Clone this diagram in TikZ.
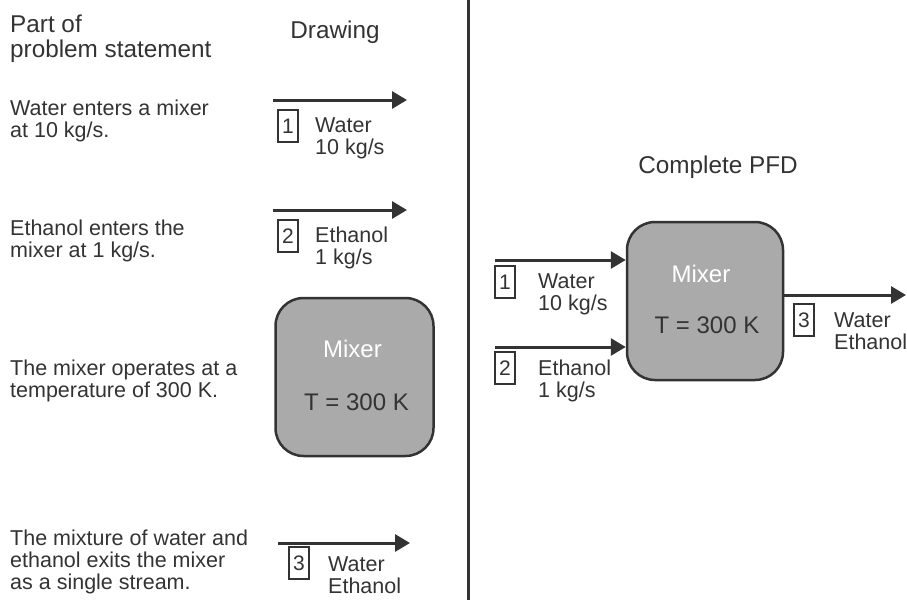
\documentclass[tikz,border=0pt]{standalone}
\usepackage{fontspec}
\setmainfont{Liberation Sans}
\usetikzlibrary{arrows.meta}
\definecolor{ink}{HTML}{333333}
\definecolor{boxgray}{HTML}{AAAAAA}

\begin{document}
\begin{tikzpicture}[x=1pt,y=-1pt,>={Triangle[length=15pt,width=17pt]},
  txt/.style={anchor=base west,align=left,inner sep=0,text=ink,font=\fontsize{21.5}{22}\selectfont},
  head/.style={txt,font=\fontsize{24.3}{25}\selectfont},
  num/.style={draw=ink,line width=2pt,text=ink,inner sep=0,minimum width=20pt,minimum height=32pt,font=\fontsize{21}{22}\selectfont},
  unit/.style={draw=ink,line width=2.5pt,fill=boxgray,rounded corners=28pt,minimum width=158pt,minimum height=158pt},
  stream/.style={->,draw=ink,line width=3pt}]
\useasboundingbox (0,0) rectangle (907,600);

% headings (base = last line)
\path
(10,57)  node[head] (h1) {Part of\\problem statement}
(335,38) node[head,anchor=base] (h2) {Drawing}
(718,173) node[head,anchor=base] (h3) {Complete PFD};

% problem statement, left column
\path
(10,137) node[txt] (p1) {Water enters a mixer\\at 10 kg/s.}
(10,257) node[txt] (p2) {Ethanol enters the\\mixer at 1 kg/s.}
(10,397) node[txt] (p3) {The mixer operates at a\\temperature of 300 K.}
(10,589) node[txt] (p4) {The mixture of water and\\ethanol exits the mixer\\as a single stream.};

% drawing column
\coordinate (a1) at (273,100);  \coordinate (b1) at (407,100);
\coordinate (a2) at (273,210);  \coordinate (b2) at (407,210);
\coordinate (a3) at (278,543);  \coordinate (b3) at (410,543);
\path
(288,126) node[num] (n1) {1}
(315,154) node[txt] {Water\\10 kg/s}
(288,236) node[num] (n2) {2}
(315,264) node[txt] {Ethanol\\1 kg/s}
(354.5,377) node[unit] (m1) {}
+(-2,-20) node[txt,anchor=base,text=white,font=\fontsize{24}{25}\selectfont] {Mixer}
+(2,33)   node[txt,anchor=base,font=\fontsize{24}{25}\selectfont] {T = 300 K}
(299,563) node[num] (n3) {3}
(328,593) node[txt] {Water\\Ethanol};

\draw[stream] (a1)--(b1);
\draw[stream] (a2)--(b2);
\draw[stream] (a3)--(b3);

% divider
\coordinate (t) at (468.5,0);
\coordinate (u) at (468.5,600);
\draw[ink,line width=3pt] (t)--(u);

% complete PFD
\path
(705,301) node[unit,minimum width=156pt] (m2) {}
+(-4,-19) node[txt,anchor=base,text=white,font=\fontsize{24}{25}\selectfont] {Mixer}
+(2,32)   node[txt,anchor=base,font=\fontsize{24}{25}\selectfont] {T = 300 K}
(505,282) node[num] (r1) {1}
(538,310) node[txt] {Water\\10 kg/s}
(505,368) node[num] (r2) {2}
(538,397) node[txt] {Ethanol\\1 kg/s}
(804,320) node[num] (r3) {3}
(834,349) node[txt] {Water\\Ethanol};

\coordinate (i1) at (495,260);
\coordinate (i2) at (495,347);
\coordinate (o3) at (906,295);
\draw[stream] (i1)--(i1 -| m2.west);
\draw[stream] (i2)--(i2 -| m2.west);
\draw[stream] (m2.east |- o3)--(o3);
\end{tikzpicture}
\end{document}
